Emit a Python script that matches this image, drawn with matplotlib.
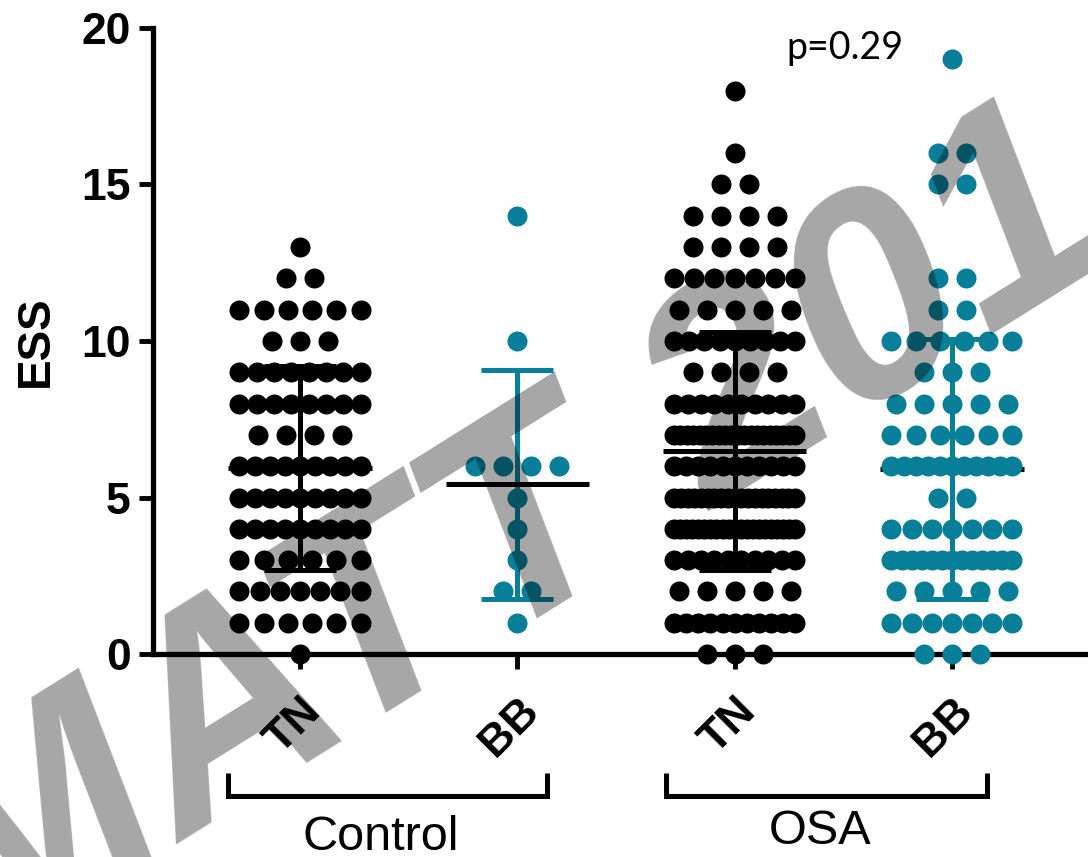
import numpy as np
import matplotlib
matplotlib.use("Agg")
import matplotlib.pyplot as plt
from matplotlib.transforms import blended_transform_factory

# ---------------- data ----------------
categories = ["TN", "BB", "TN", "BB"]
group_names = ["Control", "OSA"]
pval_text = "p=0.29"
watermark_text = "MATT 201"

ctrl_tn_vals = [13, 12, 11, 10, 9, 8, 7, 6, 5, 4, 3, 2, 1, 0]
ctrl_tn_counts = [1, 2, 6, 3, 8, 8, 4, 9, 9, 9, 6, 7, 6, 1]

ctrl_bb_vals = [14, 10, 6, 5, 4, 3, 2, 1]
ctrl_bb_counts = [1, 1, 4, 1, 1, 1, 2, 1]

osa_tn_vals = [18, 16, 15, 14, 13, 12, 11, 10, 9, 8, 7, 6, 5, 4, 3, 2, 1, 0]
osa_tn_counts = [1, 1, 2, 4, 4, 7, 5, 9, 4, 10, 20, 11, 19, 21, 10, 5, 11, 3]

osa_bb_vals = [19, 16, 15, 12, 11, 10, 9, 8, 7, 6, 5, 4, 3, 2, 1, 0]
osa_bb_counts = [1, 2, 2, 2, 2, 6, 3, 5, 6, 11, 2, 7, 13, 5, 7, 3]

BLACK = "#000000"
TEAL = "#087f98"

series = [
    (ctrl_tn_vals, ctrl_tn_counts, BLACK, BLACK),
    (ctrl_bb_vals, ctrl_bb_counts, TEAL, TEAL),
    (osa_tn_vals, osa_tn_counts, BLACK, BLACK),
    (osa_bb_vals, osa_bb_counts, TEAL, TEAL),
]

# ---------------- figure ----------------
W, H = 1088, 857
fig = plt.figure(figsize=(W / 100, H / 100), dpi=100)
ax = fig.add_axes([153 / W, 1 - 654 / H, 1 - 153 / W, 626 / H])
ax.set_xlim(0.3235, 4.626)
ax.set_ylim(0, 20)

step = 0.129      # spacing between dots in a row
max_span = 0.557  # max spread of centers

for i, (vals, counts, col, ecol) in enumerate(series):
    xc = i + 1
    xs, ys = [], []
    for v, n in zip(vals, counts):
        if (n - 1) * step <= max_span:
            offs = (np.arange(n) - (n - 1) / 2) * step
        else:
            offs = np.linspace(-max_span / 2, max_span / 2, n)
        xs.extend(xc + offs)
        ys.extend([v] * n)
    data = np.repeat(vals, counts)
    m = data.mean()
    sd = data.std(ddof=1)
    lw = 3.6
    ax.plot([xc, xc], [m - sd, m + sd], color=ecol, lw=lw, zorder=2,
            solid_capstyle="butt")
    for yy in (m - sd, m + sd):
        ax.plot([xc - 0.166, xc + 0.166], [yy, yy], color=ecol, lw=lw,
                zorder=2, solid_capstyle="butt")
    ax.plot([xc - 0.33, xc + 0.33], [m, m], color=BLACK, lw=lw, zorder=2,
            solid_capstyle="butt")
    ax.plot(xs, ys, "o", color=col, ms=14.4, mew=0, zorder=3, clip_on=False)

# ---------------- axes styling ----------------
for s in ("top", "right"):
    ax.spines[s].set_visible(False)
ax.spines["left"].set_bounds(0, 20)
ax.spines["left"].set_linewidth(3.8)
ax.spines["bottom"].set_linewidth(3.8)
ax.spines["left"].set_capstyle("projecting")

ax.set_yticks([0, 5, 10, 15, 20])
ax.set_yticklabels(["0", "5", "10", "15", "20"])
ax.tick_params(axis="y", length=10, width=3.5, pad=6, labelsize=32)
ax.set_xticks([1, 2, 3, 4])
ax.set_xticklabels(categories, rotation=45, ha="right", va="top",
                   rotation_mode="anchor")
ax.tick_params(axis="x", length=11, width=3.5, pad=15, labelsize=32)
for lab in ax.get_xticklabels() + ax.get_yticklabels():
    lab.set_fontweight("bold")
    lab.set_family("Liberation Sans")

ax.set_ylabel("ESS", fontsize=33, fontweight="bold", family="Liberation Sans",
              labelpad=17)

# group brackets
trans = blended_transform_factory(ax.transData, ax.transAxes)
brackets = [(0.669, 2.137), (2.684, 4.162)]
label_y = [-0.257, -0.247]
for (x0, x1), name, ly in zip(brackets, group_names, label_y):
    ax.plot([x0, x0, x1, x1], [-0.19, -0.227, -0.227, -0.19], color=BLACK,
            lw=3.6, transform=trans, clip_on=False, solid_joinstyle="miter",
            solid_capstyle="butt")
    ax.text((x0 + x1) / 2 - 0.03, ly, name, transform=trans, ha="center",
            va="top", fontsize=35, family="Liberation Sans")

ax.text(3.508, 19.36, pval_text, ha="center", va="center", fontsize=27,
        family="Lato")

# watermark
fig.text(-25 / W, 1 - 969 / H, watermark_text, fontsize=210,
         fontweight="bold", fontstyle="italic", family="Liberation Sans",
         color="black", alpha=0.35, rotation=32, rotation_mode="anchor",
         ha="left", va="baseline", zorder=100)

fig.savefig("out.png", dpi=100)
